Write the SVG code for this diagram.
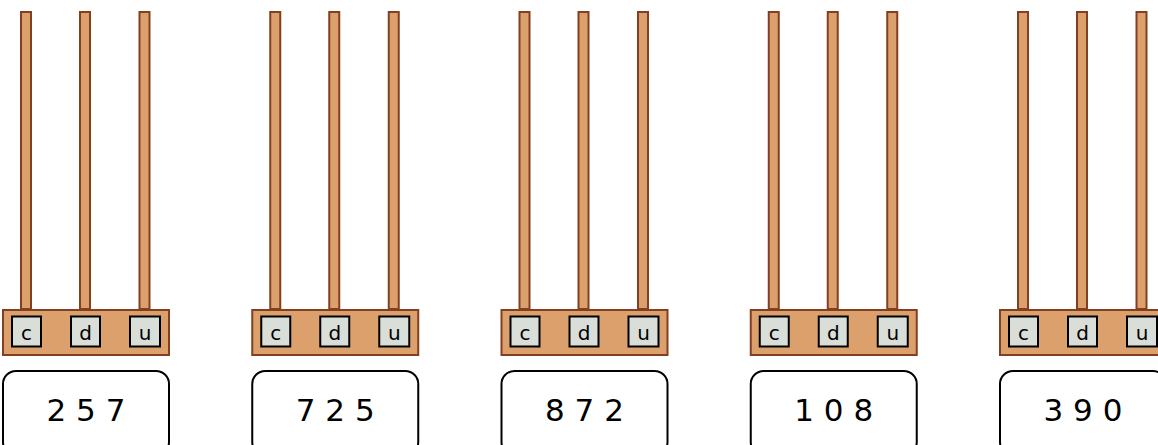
<svg xmlns="http://www.w3.org/2000/svg" width="1158" height="445" viewBox="0 0 1158 445">
<style>
.rod{fill:#dca06d;stroke:#823f22;stroke-width:2}
.base{fill:#dca06d;stroke:#823f22;stroke-width:2}
.key{fill:#d9ded9;stroke:#000;stroke-width:2}
.kt{font-family:"DejaVu Sans",sans-serif;font-size:20px;text-anchor:middle;fill:#000}
.num{fill:#fff;stroke:#000;stroke-width:2}
.nt{font-family:"DejaVu Sans",sans-serif;font-size:31px;text-anchor:middle;fill:#000}
</style>
<defs>
<g id="abacus">
<rect class="rod" x="21" y="12" width="10" height="297"/>
<rect class="rod" x="80" y="12" width="10" height="297"/>
<rect class="rod" x="139.5" y="12" width="10" height="297"/>
<rect class="base" x="3" y="310" width="166" height="45"/>
<rect class="key" x="12" y="316.5" width="29" height="30"/>
<rect class="key" x="71" y="316.5" width="29" height="30"/>
<rect class="key" x="130" y="316.5" width="30" height="30"/>
<text class="kt" x="26.5" y="340">c</text>
<text class="kt" x="85.5" y="340">d</text>
<text class="kt" x="145" y="340">u</text>
<rect class="num" x="3" y="371" width="166" height="84" rx="13"/>
</g>
</defs>
<g id="abacus1">
<use href="#abacus"/>
<text class="nt" x="86" y="421">2 5 7</text>
</g>
<g id="abacus2" transform="translate(249.25,0)">
<use href="#abacus"/>
<text class="nt" x="86" y="421">7 2 5</text>
</g>
<g id="abacus3" transform="translate(498.5,0)">
<use href="#abacus"/>
<text class="nt" x="86" y="421">8 7 2</text>
</g>
<g id="abacus4" transform="translate(747.75,0)">
<use href="#abacus"/>
<text class="nt" x="86" y="421">1 0 8</text>
</g>
<g id="abacus5" transform="translate(997,0)">
<use href="#abacus"/>
<text class="nt" x="86" y="421">3 9 0</text>
</g>
<g id="connectors"/>
</svg>
